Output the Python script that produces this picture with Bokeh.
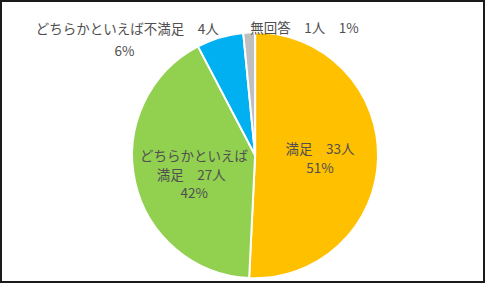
import math
from bokeh.plotting import figure
from bokeh.models import ColumnDataSource
from bokeh.core.properties import value
from bokeh.embed import file_html
from bokeh.resources import INLINE

categories = ["満足", "どちらかといえば満足", "どちらかといえば不満足", "無回答"]
counts = [33, 27, 4, 1]
percent_labels = ["51%", "42%", "6%", "1%"]
colors = ["#FFC000", "#92D050", "#00B0F0", "#BFBFBF"]

# figure spans the reference's 501x299 coordinate space, scaled to fit the window
RW, RH = 501, 299
W, H = 485, 283
p = figure(width=W, height=H, output_backend="svg", toolbar_location=None,
           x_range=(0, RW), y_range=(0, RH), min_border=0)
p.axis.visible = False
p.grid.visible = False
p.outline_line_color = "#1a1a1a"
p.outline_line_width = 3
p.background_fill_color = "white"
p.border_fill_color = "white"

total = sum(counts)
starts, ends = [], []
acc = 0.0
for c in counts:
    a0 = math.pi / 2 - 2 * math.pi * acc / total
    acc += c
    a1 = math.pi / 2 - 2 * math.pi * acc / total
    starts.append(a0)
    ends.append(a1)

cx, cy, r = 263, 135.5, 127
src = ColumnDataSource(dict(start=starts, end=ends, color=colors,
                            x=[cx] * 4, y=[cy] * 4))
p.wedge(x="x", y="y", radius=r, start_angle="start", end_angle="end",
        direction="clock", fill_color="color", line_color="white",
        line_width=2, source=src)

lines = [
    (f"{categories[0]}　{counts[0]}人", 330, 143),
    (percent_labels[0], 330, 123),
    ("どちらかといえば", 200, 136),
    (f"満足　{counts[1]}人", 197, 116),
    (percent_labels[1], 200, 97),
    (f"{categories[2]}　{counts[2]}人", 131, 270),
    (percent_labels[2], 128, 247),
    (f"{categories[3]}　{counts[3]}人　{percent_labels[3]}", 314, 271),
]
tsrc = ColumnDataSource(dict(text=[l[0] for l in lines],
                             x=[l[1] for l in lines],
                             y=[l[2] for l in lines]))
p.text(x="x", y="y", text="text", source=tsrc, text_align="center",
       text_baseline="middle", text_font=value("Noto Sans CJK JP"),
       text_font_size="13.5px", text_color="#505050")

open("out.html", "w").write(file_html(p, INLINE))
